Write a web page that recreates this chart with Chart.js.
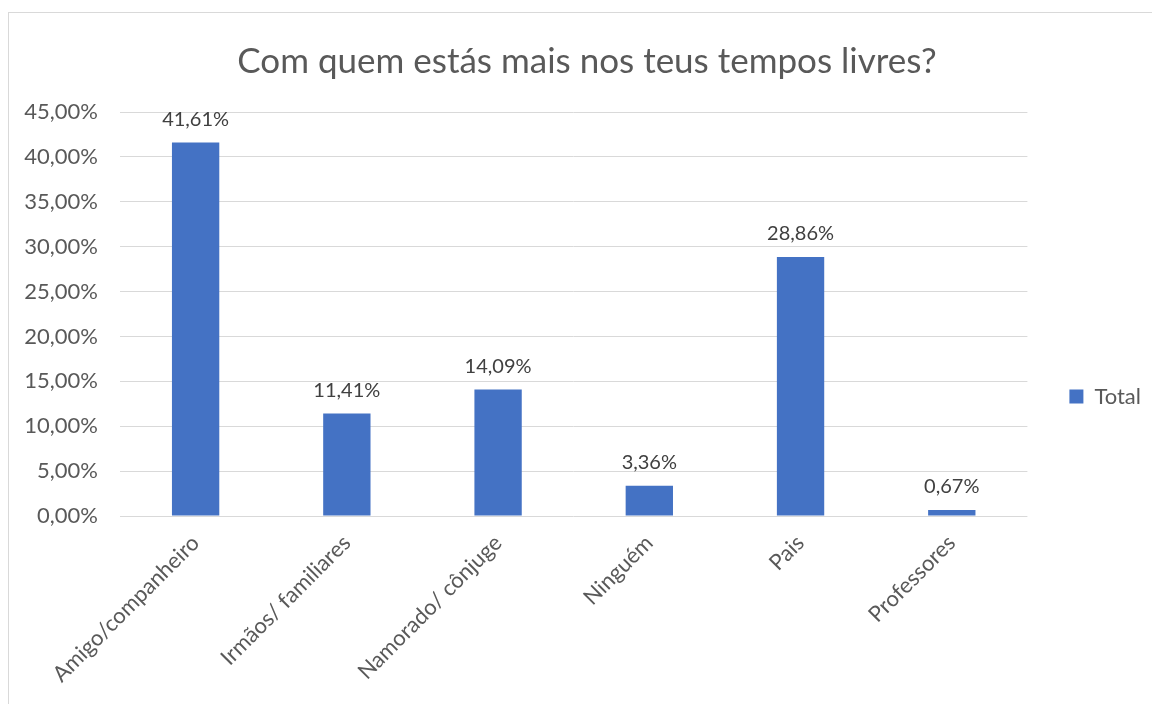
<!DOCTYPE html>
<html>
<head>
<meta charset="utf-8">
<script src="https://cdn.jsdelivr.net/npm/chart.js@4/dist/chart.umd.min.js"></script>
<style>
  html, body { margin: 0; padding: 0; background: #fff; }
  #frame { position: absolute; left: 8px; top: 12px; width: 1160px; height: 720px; border: 1px solid #d9d9d9; }
  #wrap { position: absolute; left: 0; top: 0; width: 1152px; height: 704px; }
</style>
</head>
<body>
<div id="frame"></div>
<div id="wrap"><canvas id="chart"></canvas></div>
<script>
const categories = ["Amigo/companheiro", "Irmãos/ familiares", "Namorado/ cônjuge", "Ninguém", "Pais", "Professores"];
const totalValues = [41.61, 11.41, 14.09, 3.36, 28.86, 0.67];
const seriesName = "Total";
const chartTitle = "Com quem estás mais nos teus tempos livres?";

const fmt = v => v.toFixed(2).replace(".", ",") + "%";
const fontFamily = "Lato, 'Open Sans', sans-serif";

// draw the value above each bar
const barValues = {
  id: "barValues",
  afterDatasetsDraw(chart) {
    const ctx = chart.ctx;
    const meta = chart.getDatasetMeta(0);
    ctx.save();
    ctx.font = "20px " + fontFamily;
    ctx.fillStyle = "#404040";
    ctx.textAlign = "center";
    ctx.textBaseline = "bottom";
    meta.data.forEach((bar, i) => {
      ctx.fillText(fmt(chart.data.datasets[0].data[i]), bar.x, bar.y - 13);
    });
    ctx.restore();
  }
};

new Chart(document.getElementById("chart"), {
  type: "bar",
  data: {
    labels: categories,
    datasets: [{
      label: seriesName,
      data: totalValues,
      backgroundColor: "#4472c4",
      barPercentage: 0.313,
      categoryPercentage: 1
    }]
  },
  options: {
    responsive: true,
    maintainAspectRatio: false,
    animation: false,
    layout: { padding: { left: 23, right: 1, top: 0, bottom: 0 } },
    plugins: {
      title: {
        display: true,
        text: chartTitle,
        color: "#595959",
        font: { family: fontFamily, size: 35, weight: "normal" },
        padding: { top: 41, bottom: 29 }
      },
      legend: {
        position: "right",
        title: { display: true, text: "", font: { size: 1 }, padding: { top: 0, bottom: 88 } },
        labels: {
          color: "#595959",
          font: { family: fontFamily, size: 22 },
          boxWidth: 14,
          boxHeight: 14,
          padding: 42
        }
      },
      tooltip: { enabled: false }
    },
    scales: {
      x: {
        grid: { display: false },
        border: { display: false },
        ticks: {
          color: "#595959",
          font: { family: fontFamily, size: 22 },
          minRotation: 45,
          maxRotation: 45,
          padding: 6
        },
        afterFit(scale) { scale.height = 188; }
      },
      y: {
        min: 0,
        max: 45,
        grid: { color: "#d9d9d9", lineWidth: 1, drawTicks: false },
        border: { display: false },
        ticks: {
          stepSize: 5,
          color: "#595959",
          font: { family: fontFamily, size: 22 },
          padding: 22,
          callback: v => fmt(v)
        },
        afterFit(scale) { scale.width = 97; }
      }
    }
  },
  plugins: [barValues]
});
</script>
</body>
</html>
